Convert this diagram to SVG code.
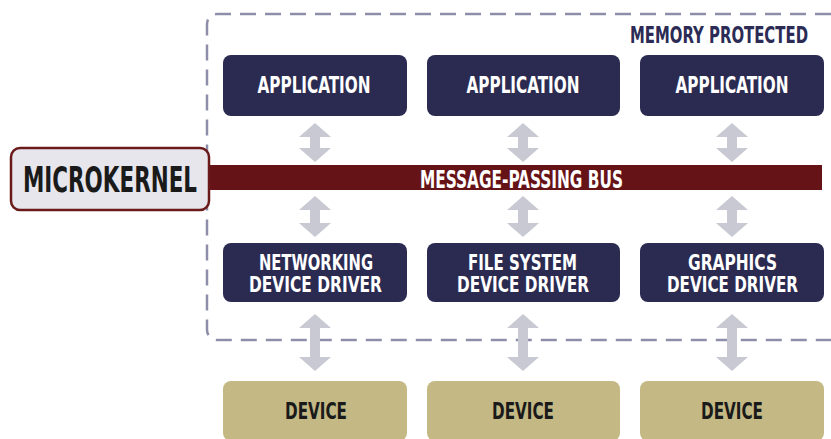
<svg xmlns="http://www.w3.org/2000/svg" width="831" height="439" viewBox="0 0 831 439">
<defs>
<style>
.t{font-family:"DejaVu Sans Condensed","DejaVu Sans","Liberation Sans",sans-serif;font-weight:bold;text-anchor:middle}
.w{fill:#ffffff}
.k{fill:#1a1a1a}
.n{fill:#2b2b55}
.app{fill:#2b2b52}
.dev{fill:#c4b984}
.arr{fill:#c9c9d3}
</style>
</defs>
<rect width="831" height="439" fill="#ffffff"/>
<g id="memory-protected">
<path d="M831,14 H217 A10,10 0 0 0 207,24 V330 A10,10 0 0 0 217,340 H831" fill="none" stroke="#8e8eaa" stroke-width="2.5" stroke-dasharray="16 9"/>
<text class="t n" x="719" y="43" font-size="23" textLength="178" lengthAdjust="spacingAndGlyphs">MEMORY PROTECTED</text>
</g>
<g id="connectors">
<g id="bus">
<rect x="205" y="165" width="617" height="25" fill="#661318"/>
<text class="t w" x="521.5" y="188" font-size="24" textLength="203" lengthAdjust="spacingAndGlyphs">MESSAGE-PASSING BUS</text>
</g>
<path class="arr" d="M315,123 L331,137 L320,137 L320,148 L331,148 L315,162 L299,148 L310,148 L310,137 L299,137 Z"/>
<path class="arr" d="M523,123 L539,137 L528,137 L528,148 L539,148 L523,162 L507,148 L518,148 L518,137 L507,137 Z"/>
<path class="arr" d="M732,123 L748,137 L737,137 L737,148 L748,148 L732,162 L716,148 L727,148 L727,137 L716,137 Z"/>
<path class="arr" d="M315,196 L331,210 L320,210 L320,223 L331,223 L315,237 L299,223 L310,223 L310,210 L299,210 Z"/>
<path class="arr" d="M523,196 L539,210 L528,210 L528,223 L539,223 L523,237 L507,223 L518,223 L518,210 L507,210 Z"/>
<path class="arr" d="M732,196 L748,210 L737,210 L737,223 L748,223 L732,237 L716,223 L727,223 L727,210 L716,210 Z"/>
<path class="arr" d="M315,314 L331,328 L320,328 L320,357 L331,357 L315,371 L299,357 L310,357 L310,328 L299,328 Z"/>
<path class="arr" d="M523,314 L539,328 L528,328 L528,357 L539,357 L523,371 L507,357 L518,357 L518,328 L507,328 Z"/>
<path class="arr" d="M732,314 L748,328 L737,328 L737,357 L748,357 L732,371 L716,357 L727,357 L727,328 L716,328 Z"/>
</g>
<g id="microkernel">
<rect x="11" y="148" width="198" height="62" rx="9" fill="#e6e6ec" stroke="#6a1a1a" stroke-width="2.5"/>
<text class="t k" x="110" y="192" font-size="35" textLength="174" lengthAdjust="spacingAndGlyphs">MICROKERNEL</text>
</g>
<g id="app1">
<rect class="app" x="223" y="55" width="184" height="61" rx="8"/>
<text class="t w" x="314" y="93" font-size="23" textLength="113" lengthAdjust="spacingAndGlyphs">APPLICATION</text>
</g>
<g id="app2">
<rect class="app" x="427" y="55" width="193" height="61" rx="8"/>
<text class="t w" x="523" y="93" font-size="23" textLength="113" lengthAdjust="spacingAndGlyphs">APPLICATION</text>
</g>
<g id="app3">
<rect class="app" x="640" y="55" width="184" height="61" rx="8"/>
<text class="t w" x="732" y="93" font-size="23" textLength="113" lengthAdjust="spacingAndGlyphs">APPLICATION</text>
</g>
<g id="driver1">
<rect class="app" x="223" y="243" width="184" height="59" rx="8"/>
<text class="t w" x="316" y="270" font-size="22" textLength="114" lengthAdjust="spacingAndGlyphs">NETWORKING</text>
<text class="t w" x="315.5" y="292" font-size="22" textLength="133" lengthAdjust="spacingAndGlyphs">DEVICE DRIVER</text>
</g>
<g id="driver2">
<rect class="app" x="427" y="243" width="193" height="59" rx="8"/>
<text class="t w" x="522.5" y="270" font-size="22" textLength="109" lengthAdjust="spacingAndGlyphs">FILE SYSTEM</text>
<text class="t w" x="523" y="292" font-size="22" textLength="132" lengthAdjust="spacingAndGlyphs">DEVICE DRIVER</text>
</g>
<g id="driver3">
<rect class="app" x="640" y="243" width="184" height="59" rx="8"/>
<text class="t w" x="732.5" y="270" font-size="22" textLength="89" lengthAdjust="spacingAndGlyphs">GRAPHICS</text>
<text class="t w" x="732.5" y="292" font-size="22" textLength="131" lengthAdjust="spacingAndGlyphs">DEVICE DRIVER</text>
</g>
<g id="device1">
<rect class="dev" x="223" y="381" width="184" height="60" rx="8"/>
<text class="t k" x="316" y="419" font-size="23" textLength="62" lengthAdjust="spacingAndGlyphs">DEVICE</text>
</g>
<g id="device2">
<rect class="dev" x="427" y="381" width="193" height="60" rx="8"/>
<text class="t k" x="523" y="419" font-size="23" textLength="62" lengthAdjust="spacingAndGlyphs">DEVICE</text>
</g>
<g id="device3">
<rect class="dev" x="640" y="381" width="184" height="60" rx="8"/>
<text class="t k" x="732" y="419" font-size="23" textLength="62" lengthAdjust="spacingAndGlyphs">DEVICE</text>
</g>
</svg>
